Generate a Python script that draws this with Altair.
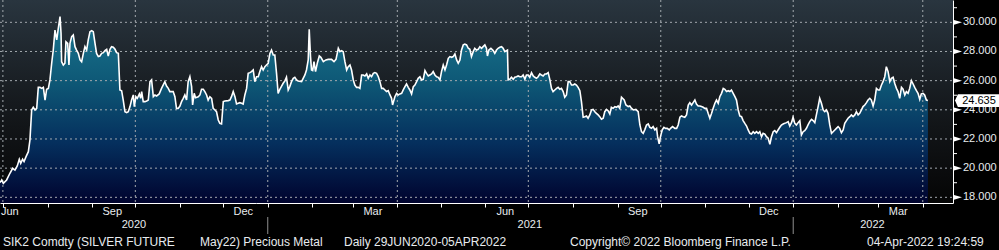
import altair as alt
import pandas as pd

# ---------------- data ----------------
start_date = "2020-06-29"
# calendar days after 29 Jun 2020
days = [
    0, 1.2, 2.3, 4.6, 6.9, 8.8, 10.4, 12.0, 13.4, 14.4, 15.7, 16.7, 18.1, 19.7, 20.8,
    22.0, 23.1, 24.3, 25.5, 26.6, 27.8, 28.9, 30.1, 31.3, 32.4, 33.6, 34.7, 35.9, 37.0,
    38.2, 39.4, 40.5, 41.7, 42.4, 42.8, 44.0, 45.1, 45.8, 47.0, 47.9, 48.6, 49.8, 50.9,
    52.1, 53.2, 54.4, 55.6, 56.7, 57.9, 59.0, 60.2, 61.3, 62.5, 63.7, 64.8, 66.0, 67.1,
    68.3, 69.4, 70.6, 71.8, 72.9, 74.1, 75.2, 76.4, 77.5, 78.7, 79.9, 81.0, 82.2, 83.3,
    84.5, 85.6, 86.8, 88.0, 89.1, 90.3, 91.4, 92.6, 93.3, 94.4, 95.4, 96.8, 97.7, 98.4,
    99.5, 100.7, 101.9, 103.0, 104.2, 105.3, 106.5, 107.6, 108.8, 110.6,
    112.2, 114.5, 115.7, 116.9, 118.0, 120.3, 121.5, 122.6, 123.8, 125.0, 126.1, 127.3,
    128.4, 129.6, 130.7, 131.9, 133.1, 133.8, 134.9, 135.8, 137.7, 138.9, 140.0, 141.2,
    142.3, 143.5, 144.6, 145.8, 147.0, 148.1, 149.3, 150.4, 151.6, 152.7, 153.9, 155.1,
    156.2, 158.5, 159.7, 160.8, 162.0, 163.2, 164.3, 165.5, 166.6, 167.8, 168.9, 170.1,
    171.3, 172.4, 173.6, 174.7, 175.9, 177.0, 178.2, 179.4, 180.5, 181.7, 182.8, 184.0,
    185.1, 186.3, 187.5, 188.6, 189.8, 190.9, 192.1, 193.2, 194.4, 195.6, 196.7, 197.9,
    199.0, 200.2, 201.3, 202.5, 203.7, 204.8, 206.0, 207.1, 209.5, 210.6, 211.8, 212.9,
    214.1, 214.8, 215.7, 216.4,
    217.2, 218.1, 219.2, 220.4, 221.8, 222.9, 224.6, 226.4, 228.0, 230.3, 232.0, 233.4,
    235.0, 236.1, 237.3, 238.4, 239.6, 240.8, 241.9, 243.1, 244.2, 245.4, 246.5, 247.7,
    248.9, 250.0, 251.2, 252.3, 253.5, 254.7, 255.8, 257.0, 258.1, 259.3, 260.4, 261.6,
    262.8, 263.9, 265.1, 266.2, 267.4, 268.5, 269.7, 270.9, 272.0, 272.7, 274.3, 275.5,
    276.6, 277.8, 279.0, 280.1, 281.3, 282.4, 283.6, 284.7, 285.9, 287.1, 288.2, 289.4,
    290.5, 291.7, 292.8, 294.0, 295.2, 296.3, 297.5, 298.6, 299.8, 300.9, 302.1, 303.3,
    304.4, 305.6, 306.7, 307.9, 309.1, 310.2, 311.4, 312.5, 313.7, 314.8, 316.0, 317.2,
    318.3, 319.5, 320.6, 321.8, 322.9, 324.1, 325.3,
    326.4, 327.5, 328.7, 329.8, 331.0, 332.2, 333.3, 334.5, 335.6, 336.8, 337.9, 338.6,
    339.6, 341.0, 342.6, 343.7, 344.9, 346.0, 347.2, 348.4, 349.5, 350.7, 351.8, 352.5,
    353.0, 354.1, 355.3, 356.5, 357.6, 358.8, 359.9, 361.1, 362.3, 363.4, 364.6, 365.7,
    366.9, 368.0, 369.2, 370.4, 371.5, 372.7, 373.8, 375.0, 376.1, 377.3, 378.5, 379.6,
    380.8, 381.9, 383.1, 384.2, 385.4, 386.6, 387.7, 388.9, 390.0, 391.2, 392.3, 393.5,
    394.7, 395.8, 397.0, 398.1, 399.3, 400.4, 401.6, 402.8, 403.9, 405.1, 406.2, 407.4,
    408.5, 409.7, 410.9, 412.0, 413.2, 414.3, 415.5, 416.6, 417.8, 419.0, 420.1, 421.3,
    422.4, 423.6, 424.7, 425.9, 427.1, 428.2, 429.4, 430.5, 431.7,
    433.6, 434.8, 436.4, 437.5, 438.7, 439.9, 441.7, 443.3, 444.5, 445.6, 446.8, 448.0,
    449.1, 450.3, 451.4, 452.6, 453.7, 454.9, 456.1, 456.8, 457.9, 458.8, 460.0, 461.2,
    462.3, 463.5, 464.9, 465.8, 467.2, 468.8, 470.0, 471.1, 472.3, 473.4, 474.6, 475.7,
    476.9, 478.1, 479.2, 480.4, 481.5, 482.7, 483.8, 485.0, 486.2, 487.3, 488.5, 489.6,
    490.8, 491.9, 493.1, 494.3, 495.4, 496.6, 497.7, 498.9, 500.0, 501.2, 502.4, 503.5,
    504.7, 505.8, 507.0, 508.1, 509.3, 510.5, 511.6, 512.8, 513.9, 515.1, 516.2, 517.4,
    518.6, 519.7, 520.9, 522.0, 523.2, 524.3, 525.5, 526.7, 527.8, 529.0, 530.1, 531.3,
    532.4, 533.6, 534.8, 535.9, 537.1, 538.2, 539.4,
    540.5, 541.7, 542.8, 544.0, 545.1, 546.3, 547.5, 548.6, 549.8, 550.9, 552.1, 553.2,
    554.4, 555.6, 556.7, 557.9, 559.0, 560.2, 561.3, 562.5, 563.7, 564.8, 566.0, 567.1,
    568.3, 569.4, 570.6, 571.8, 572.9, 574.1, 575.2, 576.4, 577.6, 578.7, 579.9, 581.0,
    582.2, 583.3, 584.5, 585.7, 586.8, 588.0, 589.1, 590.3, 591.4, 592.6, 593.8, 594.9,
    596.1, 597.2, 598.4, 599.5, 600.7, 601.9, 603.0, 604.2, 605.3, 606.5, 607.6, 608.8,
    610.0, 611.1, 612.3, 613.4, 614.6, 615.7, 616.9, 618.1, 619.2, 620.4, 621.5, 622.7,
    623.8, 625.0, 626.2, 627.3, 628.5, 629.6, 630.8, 631.9, 633.1, 634.3, 635.4, 636.6,
    637.7, 638.9, 640.0, 641.2, 642.3, 643.5, 644.6,
]
prices = [
    19.01, 19.19, 18.96, 19.19, 19.65, 19.99, 19.87, 20.15, 20.61, 20.33, 20.61, 20.45, 20.79, 21.13, 21.93,
    23.99, 24.17, 23.99, 24.10, 25.54, 25.54, 25.47, 25.54, 24.67, 25.41, 25.47, 26.05, 27.19, 28.10,
    29.47, 28.79, 29.59, 30.39, 29.25, 27.30, 27.07, 27.19, 28.67, 28.56, 27.07, 28.56, 29.02, 29.13,
    28.33, 28.10, 27.87, 27.42, 27.30, 27.87, 28.33, 28.10, 28.79, 29.36, 29.43, 29.36, 28.56, 27.87,
    27.65, 27.69, 27.87, 27.92, 28.06, 28.15, 27.69, 28.15, 28.33, 28.29, 28.15, 27.92, 27.87, 25.36,
    25.31, 24.67, 23.87, 23.81, 23.87, 24.22, 24.67, 25.02, 24.22, 24.90, 24.79, 25.09, 24.79, 25.25,
    24.56, 24.56, 24.61, 24.67, 25.93, 26.05, 24.90, 25.02, 24.95, 25.09,
    25.47, 25.93, 25.63, 25.47, 25.25, 25.25, 24.90, 24.10, 24.10, 24.26, 24.56, 24.79,
    25.02, 24.67, 25.93, 26.27, 25.59, 24.33, 25.13, 24.83, 24.90, 25.02, 25.41, 25.41,
    25.25, 25.02, 24.67, 24.90, 24.79, 24.10, 23.99, 23.87, 23.30, 23.07, 23.03, 24.56,
    24.61, 24.63, 24.67, 24.90, 25.25, 24.90, 24.40, 24.45, 24.49, 24.45, 24.40, 25.02,
    25.47, 26.50, 26.55, 26.62, 26.73, 25.93, 26.27, 26.27, 26.62, 26.96, 26.73, 26.96,
    27.07, 27.19, 27.87, 28.10, 27.76, 27.76, 26.50, 25.13, 25.41, 25.63, 25.82, 25.98,
    26.23, 25.36, 25.59, 25.93, 26.16, 26.23, 26.05, 25.98, 25.93, 26.16, 26.39, 26.73,
    27.42, 29.52, 27.65, 26.73,
    26.69, 27.30, 26.62, 27.19, 27.69, 27.60, 27.30, 27.42, 27.46, 27.46, 27.30, 27.46,
    28.22, 27.99, 28.06, 27.99, 27.30, 26.73, 26.96, 27.07, 26.73, 26.05, 25.70, 25.54,
    25.54, 25.47, 26.39, 26.39, 26.32, 26.46, 26.16, 26.39, 26.27, 26.50, 26.55, 26.50,
    26.27, 25.93, 25.47, 25.47, 25.36, 25.25, 25.31, 25.02, 24.79, 24.33, 24.90, 25.13,
    25.02, 25.09, 25.13, 25.36, 25.59, 25.77, 25.54, 25.36, 25.09, 25.59, 25.70, 25.93,
    26.16, 26.27, 26.05, 26.09, 26.69, 26.50, 26.32, 26.39, 26.46, 26.62, 26.39, 26.27,
    26.23, 26.05, 26.62, 27.07, 26.73, 27.07, 27.53, 27.65, 27.60, 27.65, 27.83, 27.42,
    27.19, 27.42, 28.10, 28.45, 28.51, 28.45, 28.22,
    28.15, 27.65, 27.99, 28.22, 28.10, 28.15, 28.33, 28.22, 28.33, 28.45, 28.22, 27.69,
    28.10, 28.22, 28.06, 27.87, 28.10, 28.22, 28.29, 28.33, 28.22, 27.99, 28.06, 28.10,
    26.05, 26.09, 26.23, 26.09, 26.23, 26.27, 26.32, 26.27, 26.27, 26.39, 26.09, 26.39,
    26.39, 26.23, 26.55, 26.32, 26.23, 26.16, 26.27, 26.46, 26.39, 26.32, 26.46, 26.46,
    26.55, 26.09, 25.47, 25.25, 25.36, 25.47, 25.54, 25.41, 25.47, 25.25, 24.86, 25.02,
    25.93, 25.93, 25.70, 25.70, 25.77, 25.70, 25.54, 25.31, 24.56, 23.49, 23.53, 23.58,
    23.42, 23.65, 23.99, 24.03, 23.87, 23.76, 23.65, 23.53, 23.35, 23.42, 23.87, 24.03,
    23.94, 23.71, 24.17, 24.10, 24.22, 24.17, 24.26, 24.10, 24.86,
    24.67, 24.33, 24.22, 24.26, 24.10, 23.99, 24.03, 23.87, 22.96, 22.50, 22.39, 22.66,
    22.96, 23.03, 22.80, 22.73, 22.85, 22.62, 22.73, 22.16, 21.66, 22.16, 22.62, 22.80,
    22.73, 22.73, 22.62, 22.73, 22.85, 22.73, 22.73, 22.96, 23.49, 23.58, 23.53, 23.49,
    23.65, 24.33, 24.49, 24.33, 24.49, 24.67, 24.40, 24.26, 24.26, 24.22, 24.17, 24.10,
    24.10, 23.76, 23.42, 23.76, 24.10, 24.45, 24.67, 24.45, 24.90, 25.13, 25.47, 25.41,
    25.25, 25.31, 25.25, 25.36, 25.13, 24.90, 24.67, 23.99, 23.58, 23.53, 23.26, 23.07,
    22.89, 22.62, 22.39, 22.34, 22.50, 22.39, 22.50, 22.39, 22.50, 22.16, 22.39, 22.34,
    22.16, 22.05, 21.63, 22.16, 22.50, 22.57, 22.43,
    22.62, 22.80, 22.96, 23.03, 23.07, 23.12, 23.19, 22.89, 23.12, 23.49, 23.07, 22.96,
    23.12, 23.26, 22.27, 22.50, 22.57, 22.73, 22.96, 23.19, 23.35, 23.26, 23.12, 23.65,
    24.22, 24.79, 24.45, 23.99, 23.87, 23.99, 23.76, 22.96, 22.39, 22.50, 22.62, 22.73,
    22.85, 22.73, 22.43, 22.62, 23.07, 23.26, 23.42, 23.53, 23.65, 23.53, 23.65, 23.87,
    23.65, 23.76, 23.99, 24.22, 24.33, 24.49, 24.67, 24.79, 24.67, 24.26, 24.67, 25.47,
    25.36, 25.36, 25.70, 25.93, 26.27, 26.96, 26.62, 25.93, 26.16, 26.23, 25.82, 25.47,
    25.25, 24.79, 25.54, 25.41, 25.02, 25.25, 25.13, 25.47, 26.00, 25.77, 25.54, 25.31,
    25.13, 24.72, 25.09, 25.13, 25.02, 24.67, 24.635,
]
last_value = [24.635]
last_label = ["24.635"]

y_major = [18, 20, 22, 24, 26, 28, 30]
y_minor = [19, 21, 23, 25, 27, 29, 31]
quarter_lines = ["2020-07-01", "2020-10-01", "2021-01-01", "2021-04-01", "2021-07-01",
                 "2021-10-01", "2022-01-01", "2022-04-01"]
first_month_label = ["Jun"]
month_label_dates = ["2020-09-15", "2020-12-15", "2021-03-15", "2021-06-15",
                     "2021-09-15", "2021-12-15", "2022-03-15"]
month_labels = ["Sep", "Dec", "Mar", "Jun", "Sep", "Dec", "Mar"]
year_separators = ["2021-01-01", "2022-01-01"]
year_label_dates = ["2020-09-30", "2021-07-02", "2022-02-25"]
year_labels = ["2020", "2021", "2022"]
footer_1 = "SIK2 Comdty (SILVER FUTURE"
footer_2 = "May22) Precious Metal"
footer_3 = "Daily 29JUN2020-05APR2022"
footer_4 = "Copyright\u00a9 2022 Bloomberg Finance L.P."
footer_5 = "04-Apr-2022 19:24:59"

# ---------------- build ----------------
W, H = 953, 203
FONT = "Liberation Sans"
TXT = "#e8ecef"
GRID = "#a3a9ae"

start = pd.Timestamp(start_date)
df = pd.DataFrame({
    "date": start + pd.to_timedelta(days, unit="D"),
    "price": prices,
})

x_scale = alt.Scale(domain=[alt.DateTime(year=2020, month=6, date=29),
                            alt.DateTime(year=2022, month=4, date=22)], nice=False)
y_scale = alt.Scale(domain=[17.61, 31.53], nice=False, zero=False)

month_starts = []
for yy, mm in [(2020, m) for m in range(7, 13)] + [(2021, m) for m in range(1, 13)] + [(2022, m) for m in range(1, 5)]:
    month_starts.append(alt.DateTime(year=yy, month=mm, date=1))

one = pd.DataFrame({"a": [0]})

bg = alt.Chart(one).mark_rect(
    color=alt.Gradient(gradient="linear", x1=0, x2=0, y1=0, y2=1,
                       stops=[alt.GradientStop(color="#29353f", offset=0),
                              alt.GradientStop(color="#161a1e", offset=0.5),
                              alt.GradientStop(color="#050505", offset=1)])
).encode(x=alt.value(0), x2=alt.value(W), y=alt.value(0), y2=alt.value(H))

area = alt.Chart(df).mark_area(
    clip=True,
    color=alt.Gradient(gradient="linear", x1=0, x2=0, y1=0, y2=1,
                       stops=[alt.GradientStop(color="#1a7690", offset=0),
                              alt.GradientStop(color="#0e5876", offset=0.35),
                              alt.GradientStop(color="#052f5d", offset=0.68),
                              alt.GradientStop(color="#00032e", offset=1)])
).encode(
    x=alt.X("date:T", scale=x_scale, title=None,
            axis=alt.Axis(values=month_starts, labels=False, title=None, grid=False,
                          tickSize=4, tickColor="white", domainColor="white",
                          domainWidth=1, tickWidth=1)),
    y=alt.Y("price:Q", scale=y_scale, stack=None, title=None,
            axis=alt.Axis(orient="right", values=y_major, title=None, grid=False,
                          labels=False, ticks=False,
                          domainColor="white", domainWidth=1)),
)

hgrid = alt.Chart(pd.DataFrame({"g": y_major})).mark_rule(
    color=GRID, strokeDash=[2, 3], strokeWidth=1, opacity=1
).encode(x=alt.value(0), x2=alt.value(W), y=alt.Y("g:Q", scale=y_scale, title=None))

vgrid = alt.Chart(pd.DataFrame({"q": pd.to_datetime(quarter_lines)})).mark_rule(
    color=GRID, strokeDash=[2, 3], strokeWidth=1, opacity=1
).encode(x=alt.X("q:T", scale=x_scale, title=None), y=alt.value(0), y2=alt.value(H))

line = alt.Chart(df).mark_line(color="white", strokeWidth=1.6).encode(
    x=alt.X("date:T", scale=x_scale, title=None),
    y=alt.Y("price:Q", scale=y_scale, title=None),
)

minor_ticks = alt.Chart(pd.DataFrame({"m": y_minor})).mark_rule(
    color="white", strokeWidth=1
).encode(x=alt.value(W), x2=alt.value(W + 4), y=alt.Y("m:Q", scale=y_scale, title=None))

arrows = alt.Chart(pd.DataFrame({"v": y_major})).mark_point(
    shape="M-1,-0.6L1,0L-1,0.6Z", filled=True, color="white", opacity=1, size=64
).encode(x=alt.value(W + 5), y=alt.Y("v:Q", scale=y_scale, title=None))

y_text = alt.Chart(pd.DataFrame({"v": y_major})).mark_text(
    color=TXT, font=FONT, fontSize=11, align="left", baseline="middle"
).encode(x=alt.value(W + 10), y=alt.Y("v:Q", scale=y_scale, title=None),
         text=alt.Text("v:Q", format=".3f"))

lastbox = alt.Chart(pd.DataFrame({"v": last_value, "t": last_label})).mark_point(
    shape="M-1,0L-0.87,-0.29L1,-0.29L1,0.29L-0.87,0.29Z", filled=True,
    color="white", opacity=1, size=1936, strokeWidth=0
).encode(x=alt.value(977), y=alt.Y("v:Q", scale=y_scale, title=None))

lasttext = alt.Chart(pd.DataFrame({"v": last_value, "t": last_label})).mark_text(
    color="black", font=FONT, fontSize=11, align="center", baseline="middle"
).encode(x=alt.value(979), y=alt.Y("v:Q", scale=y_scale, title=None), text="t:N")

m_first = alt.Chart(pd.DataFrame({"d": pd.to_datetime([start_date]), "t": first_month_label})).mark_text(
    color=TXT, font=FONT, fontSize=11, align="left", baseline="middle", dx=1
).encode(x=alt.X("d:T", scale=x_scale, title=None), y=alt.value(212), text="t:N")

m_labels = alt.Chart(pd.DataFrame({"d": pd.to_datetime(month_label_dates), "t": month_labels})).mark_text(
    color=TXT, font=FONT, fontSize=11, align="center", baseline="middle"
).encode(x=alt.X("d:T", scale=x_scale, title=None), y=alt.value(212), text="t:N")

y_labels = alt.Chart(pd.DataFrame({"d": pd.to_datetime(year_label_dates), "t": year_labels})).mark_text(
    color=TXT, font=FONT, fontSize=11, align="center", baseline="middle"
).encode(x=alt.X("d:T", scale=x_scale, title=None), y=alt.value(225), text="t:N")

y_seps = alt.Chart(pd.DataFrame({"d": pd.to_datetime(year_separators)})).mark_rule(
    color="#8f8f8f", strokeWidth=1
).encode(x=alt.X("d:T", scale=x_scale, title=None), y=alt.value(217), y2=alt.value(234))


def footer(text, px):
    return alt.Chart(pd.DataFrame({"t": [text]})).mark_text(
        color=TXT, font=FONT, fontSize=12, align="left", baseline="middle"
    ).encode(x=alt.value(px), y=alt.value(241.5), text="t:N")


chart = alt.layer(
    bg, area, hgrid, vgrid, line, minor_ticks, arrows, y_text, lastbox, lasttext,
    m_first, m_labels, y_labels, y_seps,
    footer(footer_1, 3), footer(footer_2, 200), footer(footer_3, 344),
    footer(footer_4, 570), footer(footer_5, 867),
).properties(
    width=W, height=H,
    autosize=alt.AutoSizeParams(type="none"),
    padding={"left": 0, "top": 0, "right": 46, "bottom": 47},
    background="#000000",
).configure_view(strokeWidth=0).configure_axis(grid=False)

chart.save("out.html", embed_options={"renderer": "svg", "actions": False})
